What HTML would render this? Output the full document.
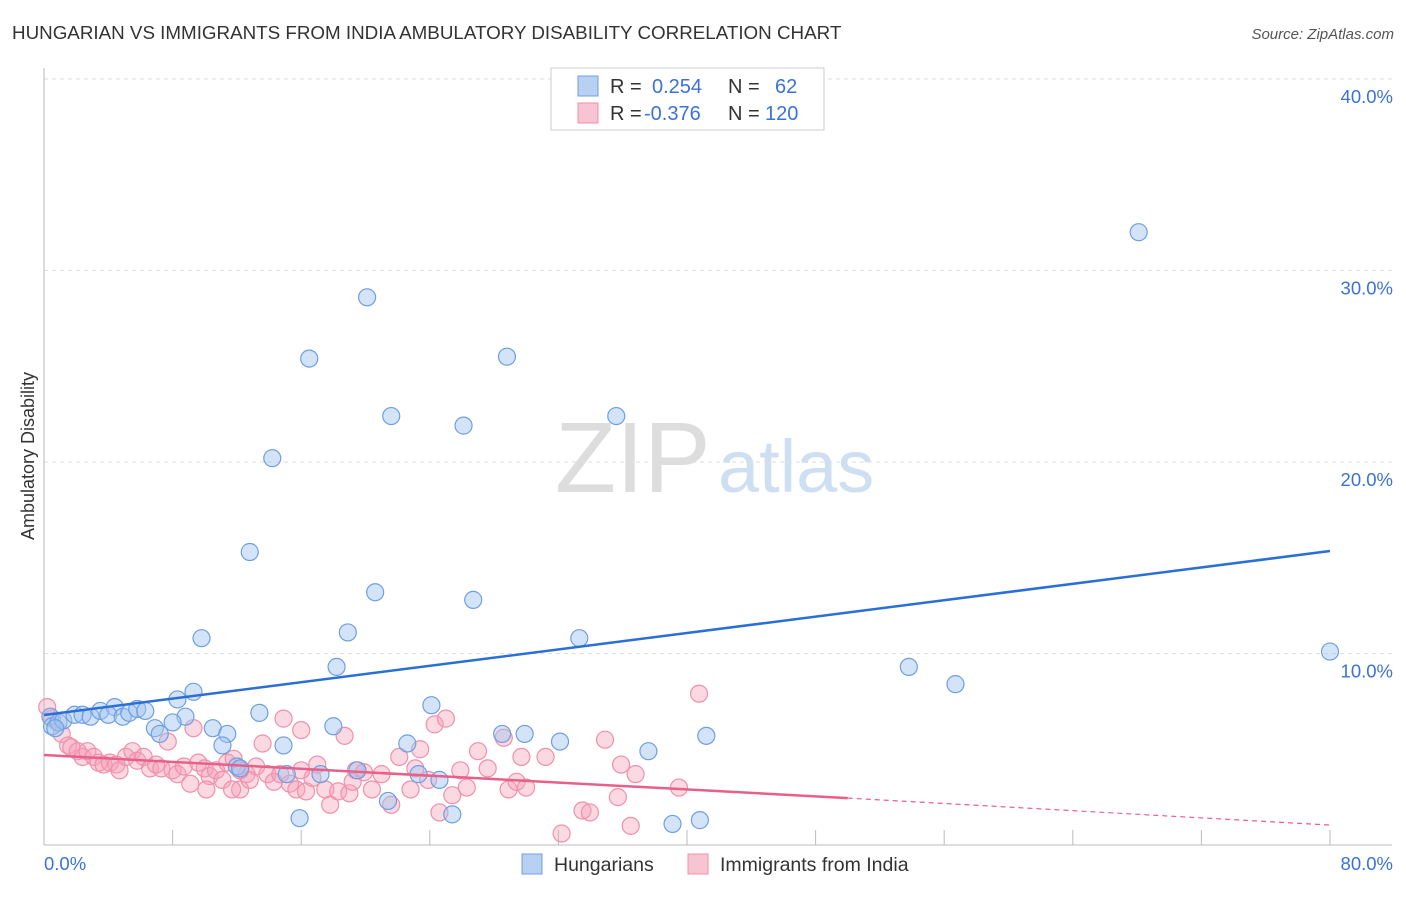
<!DOCTYPE html>
<html><head><meta charset="utf-8"><style>
body{margin:0;background:#fff;font-family:"Liberation Sans",sans-serif;}
svg text{font-family:"Liberation Sans",sans-serif;}
</style></head><body>
<svg id="c" width="1406" height="892">
<text x="12" y="39" font-size="18.8" fill="#333">HUNGARIAN VS IMMIGRANTS FROM INDIA AMBULATORY DISABILITY CORRELATION CHART</text>
<text x="1394" y="39" font-size="15" fill="#555" font-style="italic" text-anchor="end">Source: ZipAtlas.com</text>
<text x="555" y="492" font-size="100" fill="#ddd" font-family="Liberation Serif">ZIP</text>
<text x="718" y="492" font-size="74" fill="#cfdff2">atlas</text>
<text x="34" y="456" font-size="18" fill="#333" transform="rotate(-90 34 456)" text-anchor="middle">Ambulatory Disability</text>
<g id="grid"></g><g id="pts"></g><g id="lines"></g>
<g>
<rect x="551" y="68" width="273" height="62" fill="#fff" stroke="#ccc"/>
<rect x="578" y="76" width="20" height="20" fill="#b8d0f2" stroke="#6f9fe0"/>
<rect x="578" y="103" width="20" height="20" fill="#f8c4d2" stroke="#f090aa"/>
<text x="610" y="93" font-size="20" fill="#333">R =</text><text x="652" y="93" font-size="20" fill="#3b72d9">0.254</text>
<text x="728" y="93" font-size="20" fill="#333">N =</text><text x="775" y="93" font-size="20" fill="#3b72d9">62</text>
<text x="610" y="120" font-size="20" fill="#333">R =</text><text x="644" y="120" font-size="20" fill="#3b72d9">-0.376</text>
<text x="728" y="120" font-size="20" fill="#333">N =</text><text x="765" y="120" font-size="20" fill="#3b72d9">120</text>
</g>
<g>
<rect x="522" y="854" width="20" height="20" fill="#b8d0f2" stroke="#6f9fe0"/>
<text x="554" y="871" font-size="19.5" fill="#333">Hungarians</text>
<rect x="688" y="854" width="20" height="20" fill="#f8c4d2" stroke="#f090aa"/>
<text x="720" y="871" font-size="19.5" fill="#333">Immigrants from India</text>
</g>
</svg>
<script>
const yTicks=[10,20,30,40];
const xTickLabels=["0.0%","80.0%"];
const blueX=[20.1,16.5,28.8,68.1,21.6,26.1,35.6,14.2,12.8,20.6,26.7,18.9,9.8,33.3,80,18.2,53.8,56.7,9.3,8.3,24.1,13.4,8.8,18.0,8.0,6.9,7.2,10.5,11.4,11.1,14.9,28.5,29.9,32.1,22.6,41.2,37.6,12.0,12.2,15.1,17.2,19.5,23.3,24.6,21.4,15.9,25.4,39.1,40.8,0.4,0.5,0.9,1.2,1.9,2.4,2.9,3.5,4.4,4.0,4.9,5.3,5.8,6.3,0.7];
const blueY=[28.6,25.4,25.5,32.0,22.4,21.9,22.4,20.2,15.3,13.2,12.8,11.1,10.8,10.8,10.1,9.3,9.3,8.4,8.0,7.6,7.3,6.9,6.7,6.2,6.4,6.1,5.8,6.1,5.8,5.2,5.2,5.8,5.8,5.4,5.3,5.7,4.9,4.1,4.0,3.7,3.7,3.9,3.7,3.4,2.3,1.4,1.6,1.1,1.3,6.7,6.2,6.4,6.5,6.8,6.8,6.7,7.0,7.2,6.8,6.7,6.9,7.1,7.0,6.1];
const pinkX=[0.2,0.5,1.1,1.5,1.7,2.1,2.4,2.7,3.1,3.4,3.7,4.1,4.5,4.7,5.1,5.5,5.8,6.2,6.6,6.97,7.3,7.7,8.0,8.3,8.7,9.1,9.3,9.6,10.0,10.3,10.7,11.1,11.4,11.8,12.2,12.6,12.8,13.2,13.6,13.9,14.3,14.7,14.9,15.3,15.7,16.0,16.3,16.7,17.0,17.5,17.8,18.3,18.7,19.0,19.4,19.9,20.4,21.0,21.6,22.1,22.8,23.4,23.9,24.3,24.6,25.0,25.4,26.3,27.0,27.6,28.6,28.9,29.4,29.99,31.2,32.2,33.5,33.96,34.9,35.7,35.9,36.5,36.8,39.5,40.75,29.7,25.9,23.1,10.1,11.7,19.2,16.0,12.2];
const pinkY=[7.2,6.6,5.8,5.2,5.1,4.9,4.6,4.9,4.6,4.3,4.2,4.3,4.2,3.9,4.6,4.9,4.4,4.6,4.0,4.2,4.0,5.4,3.9,3.7,4.1,3.2,6.1,4.3,4.0,3.6,3.9,3.4,4.3,4.5,2.9,3.7,3.4,4.1,5.3,3.7,3.3,3.7,6.6,3.2,2.9,6.0,2.8,3.5,4.2,2.9,2.1,2.8,5.7,2.7,3.9,3.8,2.9,3.7,2.1,4.6,2.9,5.0,3.4,6.3,1.7,6.6,2.6,3.0,4.9,4.0,5.6,2.9,3.3,3.0,4.6,0.6,1.8,1.7,5.5,2.5,4.2,1.0,3.7,3.0,7.9,4.6,3.9,4.0,2.9,2.9,3.3,3.9,3.9];
const blueTrend=[6.79,15.35];
const pinkTrend=[4.7,2.45,1.04];
const NS="http://www.w3.org/2000/svg";
const X=v=>44+v*16.075, Y=v=>845-v*19.15;
function mk(tag,attrs,parent){const e=document.createElementNS(NS,tag);for(const k in attrs)e.setAttribute(k,attrs[k]);parent.appendChild(e);return e;}
const grid=document.getElementById('grid');
yTicks.forEach(t=>{
 const l=mk('line',{x1:44,x2:1392,y1:Y(t),y2:Y(t),stroke:'#ddd','stroke-dasharray':'4,4'},grid);
 
 
 const tx=mk('text',{x:1393,y:Y(t)+24,'font-size':18.5,fill:'#3b72d9','text-anchor':'end'},grid);
 tx.textContent=t.toFixed(1)+'%';
 
 
});
mk('line',{x1:44,x2:44,y1:68,y2:845,stroke:'#bbb'},grid);
mk('line',{x1:44,x2:1392,y1:845,y2:845,stroke:'#bbb'},grid);
for(let i=1;i<=10;i++){mk('line',{x1:X(i*8),x2:X(i*8),y1:830,y2:845,stroke:'#bbb'},grid);}
const xl=mk('text',{x:44,y:870,'font-size':18.5,fill:'#3b72d9'},grid);xl.textContent=xTickLabels[0];


const xr=mk('text',{x:1393,y:870,'font-size':18.5,fill:'#3b72d9','text-anchor':'end'},grid);xr.textContent=xTickLabels[1];


const pts=document.getElementById('pts');
pinkX.forEach((x,i)=>{const c=mk('circle',{cx:X(x),cy:Y(pinkY[i]),r:8.5,fill:'rgba(245,160,185,0.4)',stroke:'#f090aa','stroke-width':1.2},pts);
 
 });
blueX.forEach((x,i)=>{const c=mk('circle',{cx:X(x),cy:Y(blueY[i]),r:8.5,fill:'rgba(160,195,240,0.45)',stroke:'#6f9fe0','stroke-width':1.2},pts);
 
 });
const ln=document.getElementById('lines');
const b=mk('line',{x1:X(0),y1:Y(blueTrend[0]),x2:X(80),y2:Y(blueTrend[1]),stroke:'#2a6fd6','stroke-width':2.5},ln);


const p=mk('line',{x1:X(0),y1:Y(pinkTrend[0]),x2:X(50),y2:Y(pinkTrend[1]),stroke:'#e8608a','stroke-width':2.5},ln);


const pd=mk('line',{x1:X(50),y1:Y(pinkTrend[1]),x2:X(80),y2:Y(pinkTrend[2]),stroke:'#e8608a','stroke-width':1.2,'stroke-dasharray':'5,4'},ln);


</script>
</body></html>
